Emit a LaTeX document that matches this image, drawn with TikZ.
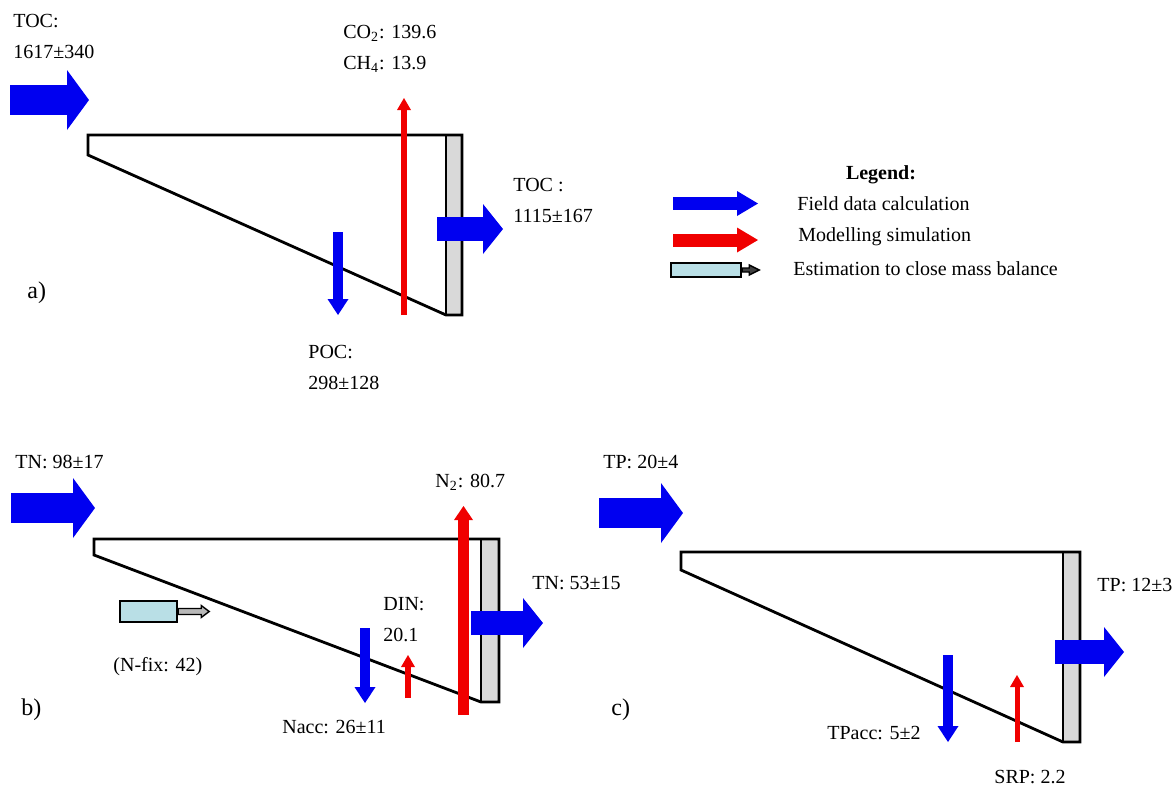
\documentclass[tikz,border=0pt]{standalone}
\usepackage{fontspec}
\setmainfont{Liberation Serif}
\usetikzlibrary{arrows.meta}
\definecolor{FieldBlue}{HTML}{0000F0}
\definecolor{ModelRed}{HTML}{F00000}
\definecolor{WallGray}{HTML}{D9D9D9}
\definecolor{EstCyan}{HTML}{B9DFE6}

\tikzset{
  basin/.style={draw=black, line width=1.4pt, line join=miter},
  wall/.style={draw=black, fill=WallGray, line width=1.4pt},
  lbl/.style={inner sep=0pt, anchor=west, align=left, font=\fontsize{10}{15.5}\selectfont},
  inflow/.style={draw=FieldBlue, line width=15pt, -{Triangle[length=11pt,width=30pt,line width=0pt]}},
  outflow/.style={draw=FieldBlue, line width=12pt, -{Triangle[length=10pt,width=25pt,line width=0pt]}},
  sinkflow/.style={draw=FieldBlue, line width=5pt, -{Triangle[length=8pt,width=10.5pt,line width=0pt]}},
  gasflow/.style={draw=ModelRed, line width=3pt, -{Triangle[length=6pt,width=7pt,line width=0pt]}},
  biggas/.style={draw=ModelRed, line width=5.5pt, -{Triangle[length=7pt,width=9.5pt,line width=0pt]}},
  keyflow/.style={line width=6.5pt, -{Triangle[length=10.5pt,width=12.5pt,line width=0pt]}},
  estbox/.style={draw=black, fill=EstCyan, line width=1.2pt, inner sep=0pt},
  esttip/.style={draw=black, fill=gray!55, line width=0.7pt},
}

\begin{document}
\begin{tikzpicture}[x=0.5pt, y=-0.5pt]
  \useasboundingbox (0,0) rectangle (1173,789);

  % a) carbon
  \draw[wall] (446,135) rectangle (462,315);
  \draw[basin] (88,135) -- (462,135) -- (462,315) -- (446,315) -- (88,155) -- cycle;
  \coordinate (aIn0) at (10,100);   \coordinate (aIn1) at (89,100);
  \coordinate (aOut0) at (437,229); \coordinate (aOut1) at (503,229);
  \coordinate (aPoc0) at (338,232); \coordinate (aPoc1) at (338,315);
  \coordinate (aGas0) at (404,315); \coordinate (aGas1) at (404,98);
  \draw[inflow] (aIn0) -- (aIn1);
  \draw[outflow] (aOut0) -- (aOut1);
  \draw[sinkflow] (aPoc0) -- (aPoc1);
  \draw[gasflow] (aGas0) -- (aGas1);
  \node[lbl] (tocIn) at (13,36) {TOC:\\1617±340};
  \node[lbl] (gasA) at (343,49) {CO\textsubscript{2}: 139.6\\CH\textsubscript{4}: 13.9};
  \node[lbl] (tocOut) at (513,200) {TOC :\\1115±167};
  \node[lbl] (poc) at (308,367) {POC:\\298±128};
  \node[lbl, font=\fontsize{12}{14}\selectfont] (panelA) at (27,293) {a)};

  % legend
  \node[lbl, anchor=center, font=\fontsize{10}{12}\selectfont\bfseries] (keyTitle) at (881,175) {Legend:};
  \coordinate (keyB0) at (673,203.5); \coordinate (keyB1) at (758,203.5);
  \coordinate (keyR0) at (673,240);   \coordinate (keyR1) at (758,240);
  \draw[keyflow, draw=FieldBlue] (keyB0) -- (keyB1);
  \draw[keyflow, draw=ModelRed] (keyR0) -- (keyR1);
  \node[estbox, minimum width=35pt, minimum height=7pt] (keyEst) at (706,270) {};
  \draw[esttip, fill=black!75] (keyEst.east) ++(0,-2) -- ++(7,0) -- ++(0,-3) -- ++(10,5) -- ++(-10,5) -- ++(0,-3) -- ++(-7,0) -- cycle;
  \node[lbl] (keyField) at (797,204) {Field data calculation};
  \node[lbl] (keyModel) at (798,237) {Modelling simulation};
  \node[lbl] (keyEstTxt) at (793,269) {Estimation to close mass balance};

  % b) nitrogen
  \draw[wall] (481,539) rectangle (499,702);
  \draw[basin] (94,539) -- (499,539) -- (499,702) -- (481,702) -- (94,555) -- cycle;
  \coordinate (bIn0) at (11,508);     \coordinate (bIn1) at (95,508);
  \coordinate (bOut0) at (471,623);   \coordinate (bOut1) at (543,623);
  \coordinate (bAcc0) at (365,628);   \coordinate (bAcc1) at (365,703);
  \coordinate (bDin0) at (408,698);   \coordinate (bDin1) at (408,655);
  \coordinate (bGas0) at (463.5,715); \coordinate (bGas1) at (463.5,506);
  \draw[inflow] (bIn0) -- (bIn1);
  \draw[outflow] (bOut0) -- (bOut1);
  \draw[sinkflow] (bAcc0) -- (bAcc1);
  \draw[gasflow] (bDin0) -- (bDin1);
  \draw[biggas] (bGas0) -- (bGas1);
  \node[estbox, minimum width=28.5pt, minimum height=10.5pt] (nfixBox) at (148.5,611.5) {};
  \draw[esttip] (nfixBox.east) ++(0,-3) -- ++(23,0) -- ++(0,-3) -- ++(8,6) -- ++(-8,6) -- ++(0,-3) -- ++(-23,0) -- cycle;
  \node[lbl] (tnIn) at (15,462) {TN: 98±17};
  \node[lbl] (nGas) at (435,482) {N\textsubscript{2}: 80.7};
  \node[lbl] (tnOut) at (532,583) {TN: 53±15};
  \node[lbl] (din) at (383,620) {DIN:\\20.1};
  \node[lbl] (nacc) at (282,727) {Nacc: 26±11};
  \node[lbl] (nfix) at (113,667) {(N-fix: 42)};
  \node[lbl, font=\fontsize{12}{14}\selectfont] (panelB) at (21,710) {b)};

  % c) phosphorus
  \draw[wall] (1063,552) rectangle (1080,742);
  \draw[basin] (681,552) -- (1080,552) -- (1080,742) -- (1063,742) -- (681,570) -- cycle;
  \coordinate (cIn0) at (599,513);   \coordinate (cIn1) at (683,513);
  \coordinate (cOut0) at (1055,652); \coordinate (cOut1) at (1124,652);
  \coordinate (cAcc0) at (948,655);  \coordinate (cAcc1) at (948,742);
  \coordinate (cSrp0) at (1017,742); \coordinate (cSrp1) at (1017,675);
  \draw[inflow] (cIn0) -- (cIn1);
  \draw[outflow] (cOut0) -- (cOut1);
  \draw[sinkflow] (cAcc0) -- (cAcc1);
  \draw[gasflow, line width=2.5pt] (cSrp0) -- (cSrp1);
  \node[lbl] (tpIn) at (603,462) {TP: 20±4};
  \node[lbl] (tpOut) at (1097,585) {TP: 12±3};
  \node[lbl] (tpacc) at (827,733) {TPacc: 5±2};
  \node[lbl] (srp) at (994,777) {SRP: 2.2};
  \node[lbl, font=\fontsize{12}{14}\selectfont] (panelC) at (611,710) {c)};
\end{tikzpicture}
\end{document}
